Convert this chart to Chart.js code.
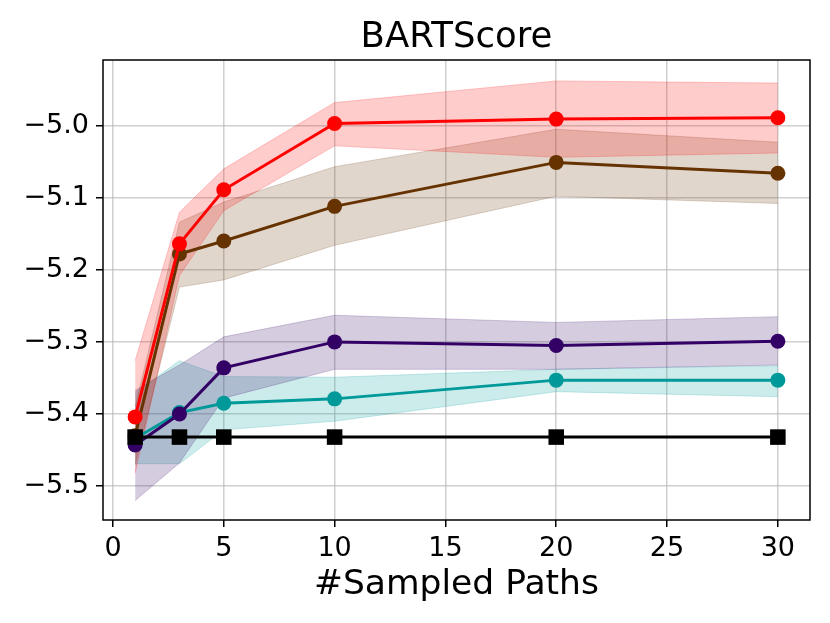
<!DOCTYPE html>
<html>
<head>
<meta charset="utf-8">
<script src="https://cdn.jsdelivr.net/npm/chart.js@4.4.0/dist/chart.umd.min.js"></script>
<style>
  html,body{margin:0;padding:0;background:#fff;}
  #wrap{width:830px;height:623px;}
</style>
</head>
<body>
<div id="wrap"><canvas id="c" width="830" height="623"></canvas></div>
<script>
/* ---- data ---- */
const paths = [1, 3, 5, 10, 20, 30];

const redMean  = [-5.404, -5.164, -5.089, -4.997, -4.991, -4.989];
const redUp    = [-5.326, -5.120, -5.060, -4.968, -4.938, -4.941];
const redLo    = [-5.482, -5.208, -5.118, -5.028, -5.044, -5.038];

const brownMean = [-5.430, -5.178, -5.160, -5.112, -5.051, -5.066];
const brownUp   = [-5.390, -5.134, -5.106, -5.057, -5.005, -5.023];
const brownLo   = [-5.470, -5.224, -5.214, -5.166, -5.098, -5.108];

const purpleMean = [-5.443, -5.400, -5.336, -5.300, -5.305, -5.299];
const purpleUp   = [-5.367, -5.332, -5.293, -5.263, -5.273, -5.265];
const purpleLo   = [-5.520, -5.468, -5.378, -5.338, -5.338, -5.332];

const tealMean = [-5.434, -5.398, -5.385, -5.379, -5.353, -5.353];
const tealUp   = [-5.370, -5.326, -5.348, -5.349, -5.338, -5.333];
const tealLo   = [-5.469, -5.469, -5.422, -5.410, -5.369, -5.376];

const baseline = [-5.432, -5.432, -5.432, -5.432, -5.432, -5.432];

const xTicks = [0, 5, 10, 15, 20, 25, 30];
const yTicks = [-5.5, -5.4, -5.3, -5.2, -5.1, -5.0];
const yTickLabels = ['−5.5', '−5.4', '−5.3', '−5.2', '−5.1', '−5.0'];

const pts = arr => arr.map((v,i)=>({x:paths[i], y:v}));
const FONT = "'DejaVu Sans', sans-serif";

function band(up, lo, rgb, order){
  const c = `rgba(${rgb},0.2)`;
  return [
    {data:pts(up), borderColor:c, borderWidth:1, pointRadius:0, fill:false, order},
    {data:pts(lo), borderColor:c, borderWidth:1, pointRadius:0, backgroundColor:c, fill:'-1', order}
  ];
}
function line(vals, color, order, style){
  return {data:pts(vals), borderColor:color, backgroundColor:color, borderWidth:3,
    pointStyle:style||'circle', pointRadius:style==='rect'?11:7.5, pointBorderWidth:0,
    pointBackgroundColor:color, fill:false, order};
}

// matplotlib-style box round the plot
const frame = {
  id:'frame',
  afterDraw(chart){
    const a = chart.chartArea, ctx = chart.ctx;
    ctx.save(); ctx.strokeStyle='#000'; ctx.lineWidth=1.5;
    ctx.strokeRect(a.left, a.top, a.right-a.left, a.bottom-a.top);
    ctx.restore();
  }
};

const gridOpts = {color:'rgba(176,176,176,0.6)', lineWidth:1.5, tickColor:'#000', tickLength:7, tickWidth:1.5};

new Chart(document.getElementById('c'), {
  type:'line',
  data:{ datasets:[
    ...band(tealUp, tealLo, '0,153,153', 100),
    ...band(purpleUp, purpleLo, '51,0,102', 99),
    ...band(brownUp, brownLo, '102,51,0', 98),
    ...band(redUp, redLo, '255,0,0', 97),
    line(tealMean, '#009999', 10),
    line(purpleMean, '#330066', 9),
    line(brownMean, '#663300', 8),
    line(redMean, '#ff0000', 7),
    line(baseline, '#000000', 6, 'rect')
  ]},
  options:{
    responsive:false, animation:false, devicePixelRatio:1,
    layout:{padding:{left:0, right:20, top:0, bottom:0}},
    plugins:{ legend:{display:false}, tooltip:{enabled:false} },
    scales:{
      x:{type:'linear', min:-0.45, max:31.45,
        afterBuildTicks:s=>{ s.ticks = xTicks.map(v=>({value:v})); },
        afterFit:s=>{ s.height = 103; },
        ticks:{color:'#000', font:{family:FONT, size:27}, padding:6, maxRotation:0, autoSkip:false},
        grid:gridOpts,
        border:{display:false},
        title:{display:true, text:'#Sampled Paths', color:'#000',
          font:{family:FONT, size:34.5, lineHeight:1.2}, padding:{top:0, bottom:17}}
      },
      // top axis only carries the title so it centres over the plot area
      top:{type:'linear', position:'top', min:0, max:1,
        afterFit:s=>{ s.height = 60; },
        ticks:{display:false}, grid:{display:false}, border:{display:false},
        title:{display:true, text:'BARTScore', color:'#000',
          font:{family:FONT, size:35.5, lineHeight:1.2}, padding:{top:16, bottom:0}}
      },
      y:{min:-5.547, max:-4.909,
        afterBuildTicks:s=>{ s.ticks = yTicks.map(v=>({value:v})); },
        afterFit:s=>{ s.width = 103; },
        ticks:{color:'#000', font:{family:FONT, size:27}, padding:7, autoSkip:false,
          callback:v=>yTickLabels[yTicks.indexOf(Math.round(v*10)/10)]},
        grid:gridOpts,
        border:{display:false}
      }
    }
  },
  plugins:[frame]
});
</script>
</body>
</html>
